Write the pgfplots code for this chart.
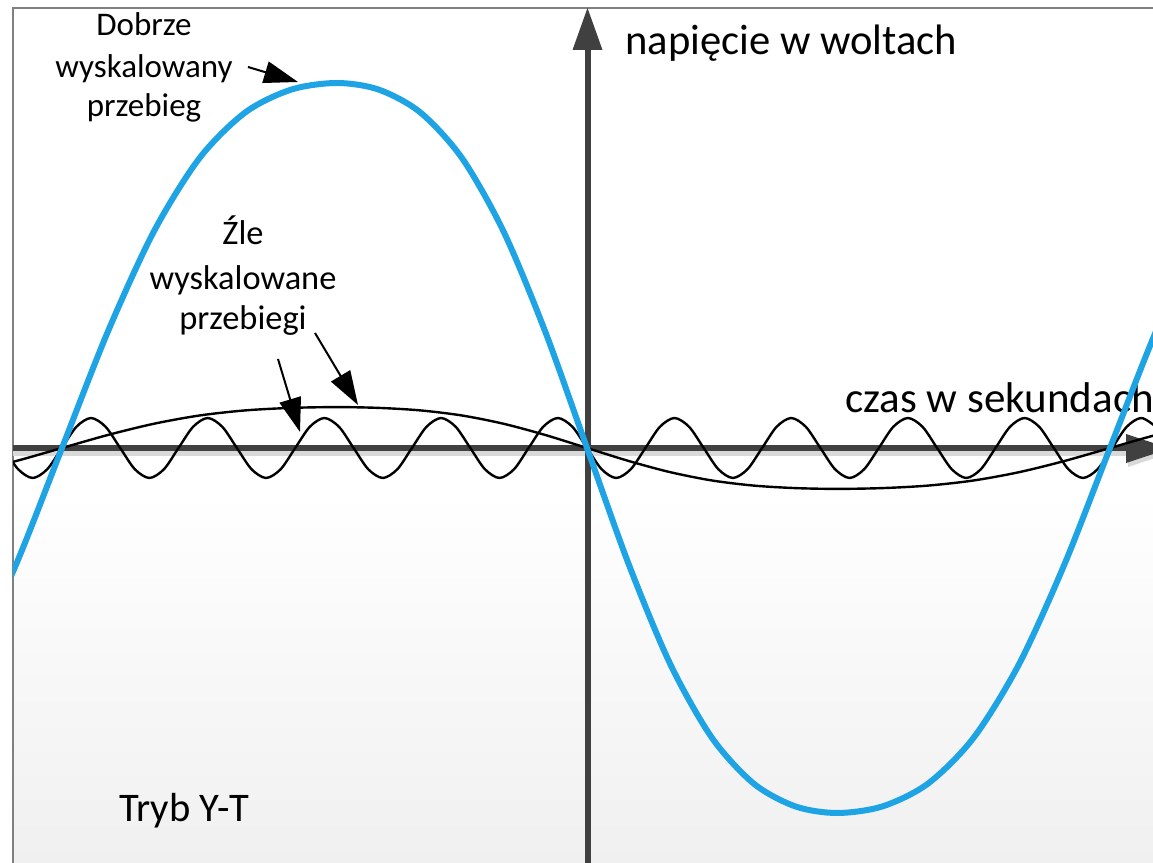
\documentclass[border=0pt]{standalone}
\usepackage{pgfplots}
\pgfplotsset{compat=1.18}
\usepackage{fontspec}
\setmainfont{Carlito}
\usetikzlibrary{arrows.meta}
\definecolor{wblue}{RGB}{30,164,228}
\definecolor{axgray}{RGB}{64,64,64}
\pgfdeclareverticalshading{bgshade}{100bp}{color(0bp)=(black!6); color(25bp)=(black!6); color(47bp)=(white); color(100bp)=(white)}
\begin{document}
\begin{tikzpicture}
\path[use as bounding box, clip] (0pt,0pt) rectangle (576.5pt,431.5pt);
\begin{scope}[x=0.5pt,y=-0.5pt,shift={(0pt,431.5pt)}]
  % background frame
  \shade[shading=bgshade] (13,8) rectangle (1160,870);
  \draw[black!50, line width=0.8pt] (13,870) -- (13,8) -- (1160,8);
  % axis shadow
  \fill[black!15] (13,451.5) rectangle (1130,456.5);
  \fill[black!15] (1128,438) -- (1172,452.5) -- (1128,467) -- cycle;
  % horizontal axis
  \fill[axgray] (13,445.5) rectangle (1130,451.5);
  \fill[axgray] (1126,434) -- (1170,448.5) -- (1126,463) -- cycle;
  % vertical axis
  \fill[axgray] (584.5,870) rectangle (590.5,48);
  \fill[axgray] (572.5,50) -- (587.5,8) -- (602.5,50) -- cycle;
  % texts
  \node[anchor=base west, inner sep=0, font=\fontsize{21.3}{25}\selectfont] at (625,55) {napięcie w woltach};
  \node[anchor=base west, inner sep=0, font=\fontsize{21.5}{25}\selectfont] at (845,413) {czas w sekundach};
  \node[anchor=base west, inner sep=0, font=\fontsize{20.3}{24}\selectfont] at (119,822) {Tryb Y-T};
  \begin{scope}[every node/.style={anchor=base, inner sep=0, font=\fontsize{16.5}{20}\selectfont}]
    \node at (144,36) {Dobrze};
    \node at (144,78) {wyskalowany};
    \node at (144,117) {przebieg};
  \end{scope}
  \begin{scope}[every node/.style={anchor=base, inner sep=0, font=\fontsize{17.2}{20}\selectfont}]
    \node at (243,245) {Źle};
    \node at (243,290) {wyskalowane};
    \node at (243,330) {przebiegi};
  \end{scope}
\end{scope}
\begin{axis}[
  at={(6.5pt,0pt)}, anchor=south west,
  width=570pt, height=431.5pt, scale only axis,
  xmin=-574, xmax=566, ymin=-415, ymax=448,
  axis lines=none, ticks=none, clip=true,
]
% slowly varying (badly scaled, too small amplitude)
\addplot[black, line width=1.2pt, smooth] coordinates {
(-616.7,-24.2) (-570.8,-13.0) (-525,0) (-479.2,13.0) (-433.3,24.2) (-387.5,32.5) (-341.7,37.6) (-295.8,40.1) (-250,40.9) (-208.3,40.1) (-166.7,37.6) (-125,32.5) (-83.3,24.2) (-41.7,13.0) (0,0) (41.7,-13.0) (83.3,-24.2) (125,-32.5) (166.7,-37.6) (208.3,-40.1) (250,-40.9) (295.5,-40.1) (341,-37.6) (386.5,-32.5) (432,-24.2) (477.5,-13.0) (523,0) (568.8,13.0) (614.7,24.2)
};
% fast (badly scaled time base)
\addplot[black, line width=1.2pt, smooth] coordinates {
(-598.1,21.2) (-583.5,0) (-568.9,-21.2) (-554.3,-30) (-539.7,-21.2) (-525.2,0) (-510.6,21.2) (-496.0,30) (-481.4,21.2) (-466.8,0) (-452.2,-21.2) (-437.6,-30) (-423.0,-21.2) (-408.5,0) (-393.9,21.2) (-379.3,30) (-364.7,21.2) (-350.1,0) (-335.5,-21.2) (-320.9,-30) (-306.3,-21.2) (-291.8,0) (-277.2,21.2) (-262.6,30) (-248.0,21.2) (-233.4,0) (-218.8,-21.2) (-204.2,-30) (-189.6,-21.2) (-175.1,0) (-160.5,21.2) (-145.9,30) (-131.3,21.2) (-116.7,0) (-102.1,-21.2) (-87.5,-30) (-72.9,-21.2) (-58.4,0) (-43.8,21.2) (-29.2,30) (-14.6,21.2) (0,0) (14.6,-21.2) (29.2,-30) (43.8,-21.2) (58.4,0) (72.9,21.2) (87.5,30) (102.1,21.2) (116.7,0) (131.3,-21.2) (145.9,-30) (160.5,-21.2) (175.1,0) (189.6,21.2) (204.2,30) (218.8,21.2) (233.4,0) (248.0,-21.2) (262.6,-30) (277.2,-21.2) (291.8,0) (306.3,21.2) (320.9,30) (335.5,21.2) (350.1,0) (364.7,-21.2) (379.3,-30) (393.9,-21.2) (408.5,0) (423.0,21.2) (437.6,30) (452.2,21.2) (466.8,0) (481.4,-21.2) (496.0,-30) (510.6,-21.2) (525.2,0) (539.7,21.2) (554.3,30) (568.9,21.2)
};
% well scaled waveform
\addplot[wblue, line width=3pt, smooth] coordinates {
(-616.7,-216.2) (-570.8,-116.2) (-525,0) (-479.2,116.2) (-433.3,216.2) (-387.5,289.9) (-341.7,335.6) (-295.8,358.4) (-250,365) (-208.3,358.4) (-166.7,335.6) (-125,289.9) (-83.3,216.2) (-41.7,116.2) (0,0) (41.7,-116.2) (83.3,-216.2) (125,-289.9) (166.7,-335.6) (208.3,-358.4) (250,-365) (295.5,-358.4) (341,-335.6) (386.5,-289.9) (432,-216.2) (477.5,-116.2) (523,0) (568.8,116.2) (614.7,216.2)
};
\end{axis}
\begin{scope}[x=0.5pt,y=-0.5pt,shift={(0pt,431.5pt)}]
  \draw[black, line width=1pt, -{Triangle[length=17pt,width=11pt]}] (248,67) -- (298,82);
  \draw[black, line width=1pt, -{Triangle[length=17pt,width=11pt]}] (278,359) -- (300,432);
  \draw[black, line width=1pt, -{Triangle[length=17pt,width=11pt]}] (315,333) -- (358,405);
\end{scope}
\end{tikzpicture}
\end{document}
